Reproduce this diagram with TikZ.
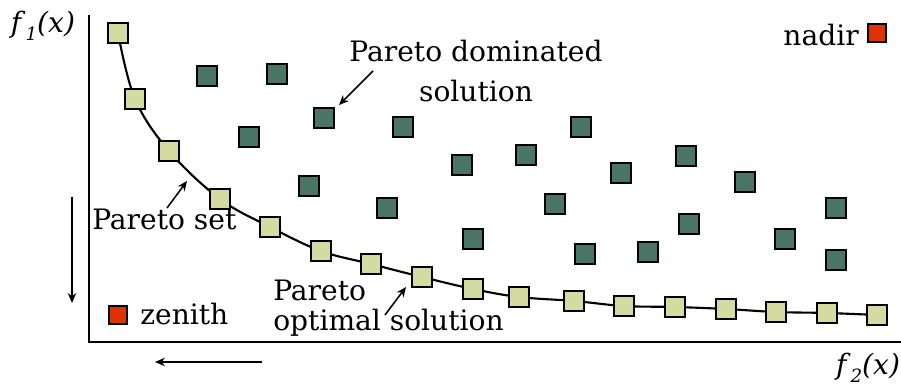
\documentclass[tikz,border=0pt]{standalone}
\usepackage{fontspec}
\setmainfont{DejaVu Serif}
\usetikzlibrary{arrows.meta}
\definecolor{paretofill}{RGB}{212,219,161}
\definecolor{domfill}{RGB}{74,117,102}
\definecolor{pointred}{RGB}{221,51,0}
\newcommand{\objf}[1]{\textit{f}\raisebox{-0.5ex}{\fontsize{13}{13}\selectfont\itshape #1}\textit{(x)}}

\begin{document}
\begin{tikzpicture}[x=0.025cm, y=-0.025cm,
    sq/.style={draw=black, line width=1.4pt, minimum size=0.49cm, inner sep=0pt},
    par/.style={sq, fill=paretofill},
    dom/.style={sq, fill=domfill, line width=1.6pt},
    ext/.style={sq, fill=pointred, line width=1.3pt, minimum size=0.47cm},
    lbl/.style={inner sep=0pt, font=\fontsize{20}{24}\selectfont},
    pointer/.style={-{Stealth[length=7pt, width=6pt]}, line width=1.1pt}]
    \useasboundingbox (0,0) rectangle (901,392);

    \coordinate (ytop) at (89,15);
    \coordinate (origin) at (89,342);
    \coordinate (xend) at (901,342);
    \draw[line width=1.8pt] (ytop) -- (origin) -- (xend);
    \node[lbl, anchor=base] (f1lbl) at (43,33) {\objf{1}};
    \node[lbl, anchor=base] (f2lbl) at (868,375) {\objf{2}};

    \foreach \x/\y [count=\i] in {118/33, 135/99, 169/151, 220/199, 270/227, 321/251, 371/264, 422/277, 473/289,
        519/297, 574/301, 624/306, 675/307, 726/309, 776/312, 827/313, 877/315}
        \coordinate (c\i) at (\x,\y);
    \draw[line width=1.5pt] plot[smooth, tension=0.6] coordinates {(c1) (c2) (c3) (c4) (c5) (c6) (c7) (c8) (c9)
        (c10) (c11) (c12) (c13) (c14) (c15) (c16) (c17)};
    \foreach \i in {1,...,17}
        \node[par] (p\i) at (c\i) {};

    \foreach \x/\y [count=\i] in {207/76, 277/74, 249/137, 324/118, 403/127, 581/127, 462/165, 526/155, 621/173,
        686/156, 745/182, 309/186, 387/208, 555/204, 689/224, 473/239, 585/254, 648/252, 785/239, 836/208, 836/260}
        \node[dom] (d\i) at (\x,\y) {};

    \node[ext] (nadir) at (877,33) {};
    \node[lbl, anchor=base east] (nadirlbl) at (859,46) {nadir};
    \node[ext] (zenith) at (118,315) {};
    \node[lbl, anchor=base west] (zenithlbl) at (140,325) {zenith};

    \node[lbl, anchor=base west] (setlbl) at (92,230) {Pareto set};
    \node[lbl, anchor=north, align=center, font=\fontsize{20}{28.5}\selectfont] (domlbl) at (476,40) {Pareto dominated\\solution};
    \node[lbl, anchor=north west, align=left, font=\fontsize{20}{21.3}\selectfont] (optlbl) at (273,280) {Pareto\\optimal solution};

    \coordinate (domtail) at (373,71);
    \coordinate (domtip) at (339,105);
    \coordinate (settail) at (167,208);
    \coordinate (settip) at (187,181);
    \coordinate (opttail) at (385,315);
    \coordinate (opttip) at (406,287);
    \draw[pointer] (domtail) -- (domtip);
    \draw[pointer] (settail) -- (settip);
    \draw[pointer] (opttail) -- (opttip);

    \coordinate (downtop) at (72,197);
    \coordinate (downend) at (72,303);
    \coordinate (lefttail) at (262,362);
    \coordinate (leftend) at (155,362);
    \draw[pointer] (downtop) -- (downend);
    \draw[pointer] (lefttail) -- (leftend);
\end{tikzpicture}
\end{document}
